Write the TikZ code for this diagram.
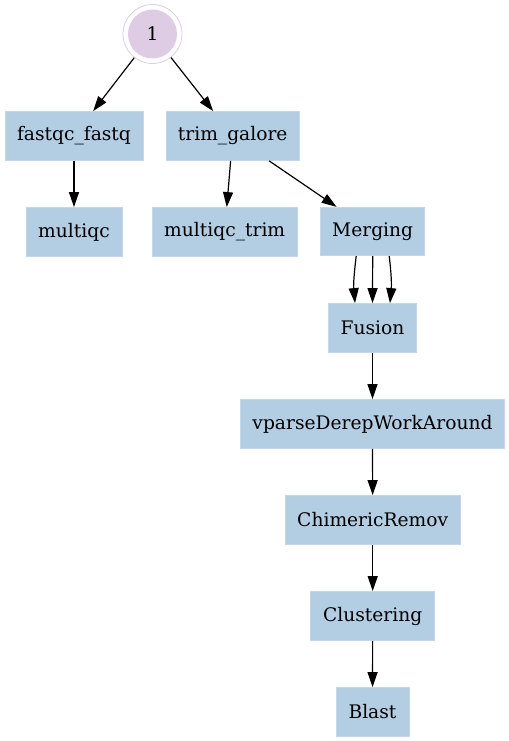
\documentclass[tikz,border=0pt]{standalone}
\usepackage{fontspec}
\setmainfont{DejaVu Serif}
\usetikzlibrary{arrows.meta}
\definecolor{boxfill}{HTML}{B3CDE3}
\definecolor{circfill}{HTML}{DECBE4}
\tikzset{
  stepbox/.style={rectangle, fill=boxfill, draw=boxfill!80!white, line width=0.4pt,
    inner sep=0pt, font=\fontsize{9.33}{11}\selectfont},
  edge/.style={line width=0.6pt, -{Triangle[length=7.5pt,width=5pt]}},
}
\begin{document}
\begin{tikzpicture}[x=0.5pt,y=-0.5pt]
\useasboundingbox (0,0) rectangle (509,741);
% start node
\node[circle, fill=circfill, minimum size=24.5pt, inner sep=0pt, font=\fontsize{9.33}{11}\selectfont] (n1) at (152.5,34) {1};
\node[circle, draw=circfill, line width=0.4pt, minimum size=29.5pt, inner sep=0pt] (n1o) at (152.5,34) {};
% boxes
\node[stepbox, minimum width=69pt, minimum height=24.5pt] (fq) at (74,136) {fastqc\_fastq};
\node[stepbox, minimum width=66.5pt, minimum height=24.5pt] (tg) at (232.7,136) {trim\_galore};
\node[stepbox, minimum width=48pt, minimum height=24.5pt] (mq) at (74,232) {multiqc};
\node[stepbox, minimum width=72.5pt, minimum height=24.5pt] (mqt) at (224.7,232) {multiqc\_trim};
\node[stepbox, minimum width=52pt, minimum height=24.25pt] (mg) at (372.7,231.5) {Merging};
\node[stepbox, minimum width=44pt, minimum height=24.5pt] (fu) at (372.5,328) {Fusion};
\node[stepbox, minimum width=132pt, minimum height=24.5pt] (vp) at (372.5,424) {vparseDerepWorkAround};
\node[stepbox, minimum width=87.5pt, minimum height=24.5pt] (cr) at (372.7,520) {ChimericRemov};
\node[stepbox, minimum width=62pt, minimum height=24.5pt] (cl) at (372.7,616) {Clustering};
\node[stepbox, minimum width=36.5pt, minimum height=24.5pt] (bl) at (372.5,712) {Blast};
% edges
\draw[edge] (n1o) -- (fq);
\draw[edge] (n1o) -- (tg);
\draw[edge] (fq) -- (mq);
\draw[edge] (tg) -- (mqt);
\draw[edge] (tg) -- (mg);
\draw[edge] ([xshift=-8.25pt]mg.south) to[out=-97,in=95] ([xshift=-8.75pt]fu.north);
\draw[edge] (mg.south) -- (fu.north);
\draw[edge] ([xshift=8.25pt]mg.south) to[out=-83,in=85] ([xshift=8.75pt]fu.north);
\draw[edge] (fu) -- (vp);
\draw[edge] (vp) -- (cr);
\draw[edge] (cr) -- (cl);
\draw[edge] (cl) -- (bl);
\end{tikzpicture}
\end{document}
